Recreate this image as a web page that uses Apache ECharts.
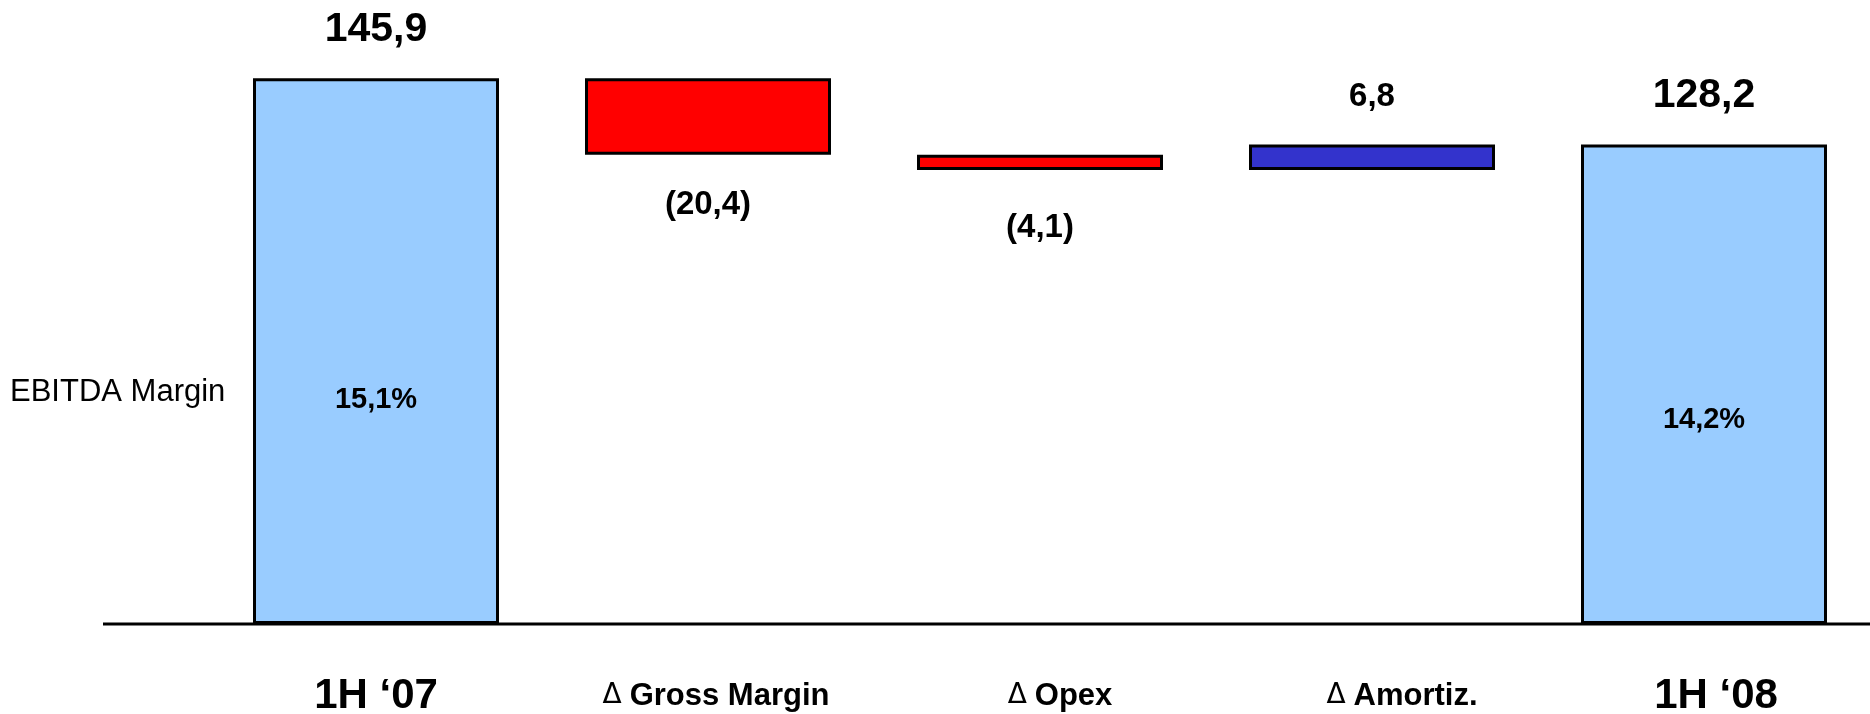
<!DOCTYPE html>
<html>
<head>
<meta charset="utf-8">
<script src="https://cdn.jsdelivr.net/npm/echarts@6/dist/echarts.min.js"></script>
<style>
  html, body { margin: 0; padding: 0; background: #ffffff; }
  #chart { width: 1870px; height: 714px; }
</style>
</head>
<body>
<div id="chart"></div>
<script>
// EBITDA bridge 1H '07 -> 1H '08
const categories = ['1H \u201807', '\u0394 Gross Margin', '\u0394 Opex', '\u0394 Amortiz.', '1H \u201808'];
const startValue = 145.9;
const deltas = [-20.4, -4.1, 6.8];
const endValue = 128.2;
const marginLabels = ['15,1%', null, null, null, '14,2%'];

const FONT = '"Liberation Sans", Arial, sans-serif';
const COLOR_TOTAL = '#99CCFF';
const COLOR_DOWN = '#FF0000';
const COLOR_UP = '#3333CC';
const BORDER = { borderColor: '#000000', borderWidth: 3 };
const AXIS_WIDTH = 3;

// horizontal nudge (px) of each category caption relative to its bar
const captionNudge = [0, 8, 20, 30, 12];
// vertical placement of the margin text inside each total bar
const marginTextPos = { 0: ['50%', '59%'], 4: ['50%', '57.4%'] };

const fmt = v => {
  const s = Math.abs(v).toFixed(1).replace('.', ',');
  return v < 0 ? '(' + s + ')' : s;
};

// Build invisible base + visible bar for each step of the waterfall
const baseData = [];
const barData = [];
const overlayData = [];

const totalItem = v => ({
  value: v,
  itemStyle: { color: COLOR_TOTAL },
  label: { show: true, position: 'top', distance: 28, fontSize: 41, formatter: fmt(v) }
});

baseData.push(0);
barData.push(totalItem(startValue));
overlayData.push(startValue);

let running = startValue;
deltas.forEach(d => {
  const next = running + d;
  baseData.push(Math.min(running, next));
  barData.push({
    value: Math.abs(d),
    itemStyle: { color: d < 0 ? COLOR_DOWN : COLOR_UP },
    label: {
      show: true,
      position: d < 0 ? 'bottom' : 'top',
      distance: d < 0 ? (Math.abs(d) < 10 ? 41 : 34) : 31,
      fontSize: 33,
      formatter: fmt(d)
    }
  });
  overlayData.push('-');
  running = next;
});

baseData.push(0);
barData.push(totalItem(endValue));
overlayData.push(endValue);

const overlayItems = overlayData.map((v, i) => (
  v === '-' ? v : { value: v, label: { position: marginTextPos[i] } }
));

// rich styles for the category captions
const rich = {};
categories.forEach((c, i) => {
  const pad = [0, 0, 0, 2 * captionNudge[i]];
  rich['b' + i] = { fontFamily: FONT, fontSize: 42, fontWeight: 'bold', color: '#000', lineHeight: 44, padding: pad };
  rich['d' + i] = { fontFamily: '"DejaVu Sans", sans-serif', fontSize: 28, fontWeight: 'normal', color: '#000', lineHeight: 44, padding: [0, 8, 0, 2 * captionNudge[i]] };
});
rich.s = { fontFamily: FONT, fontSize: 31, fontWeight: 'bold', color: '#000', lineHeight: 44 };

const chart = echarts.init(document.getElementById('chart'), null, { renderer: 'canvas' });

const option = {
  animation: false,
  backgroundColor: '#ffffff',
  textStyle: { fontFamily: FONT },
  // fixed plot rectangle; captions may sit in the margin below it
  grid: { left: 210, right: 0, top: 63, bottom: 90, containLabel: false, outerBoundsMode: 'none' },
  xAxis: {
    type: 'category',
    data: categories,
    axisLine: { show: false },
    axisTick: { show: false },
    axisLabel: {
      margin: 50,
      interval: 0,
      formatter: (v, i) => {
        if (v.charAt(0) === '\u0394') {
          return '{d' + i + '|\u0394}{s|' + v.slice(2) + '}';
        }
        return '{b' + i + '|' + v + '}';
      },
      rich: rich
    }
  },
  yAxis: { type: 'value', min: 0, max: 150, show: false, splitLine: { show: false } },
  series: [
    {
      name: 'base',
      type: 'bar',
      stack: 'bridge',
      barWidth: 246,
      silent: true,
      itemStyle: { color: 'rgba(0,0,0,0)', borderWidth: 0 },
      data: baseData
    },
    {
      name: 'EBITDA',
      type: 'bar',
      stack: 'bridge',
      barWidth: 246,
      itemStyle: BORDER,
      label: {
        color: '#000000',
        fontWeight: 'bold',
        fontFamily: FONT
      },
      data: barData
    },
    {
      name: 'EBITDA Margin',
      type: 'bar',
      barWidth: 246,
      barGap: '-100%',
      silent: true,
      z: 4,
      itemStyle: { color: 'rgba(0,0,0,0)', borderWidth: 0 },
      label: {
        show: true,
        align: 'center',
        verticalAlign: 'middle',
        color: '#000000',
        fontWeight: 'bold',
        fontSize: 29,
        fontFamily: FONT,
        formatter: (p) => marginLabels[p.dataIndex] || ''
      },
      data: overlayItems
    }
  ]
};

chart.setOption(option);

// Baseline at value 0, running from the row caption area to the right edge
const zeroY = chart.convertToPixel({ yAxisIndex: 0 }, 0);
chart.setOption({
  graphic: [
    {
      type: 'line',
      z: 10,
      shape: { x1: 103, y1: zeroY, x2: 1870, y2: zeroY },
      style: { stroke: '#000000', lineWidth: AXIS_WIDTH }
    },
    {
      type: 'text',
      left: 10,
      top: 377,
      style: {
        text: 'EBITDA Margin',
        fontFamily: FONT,
        fontSize: 31,
        fill: '#000000'
      }
    }
  ]
});
</script>
</body>
</html>
